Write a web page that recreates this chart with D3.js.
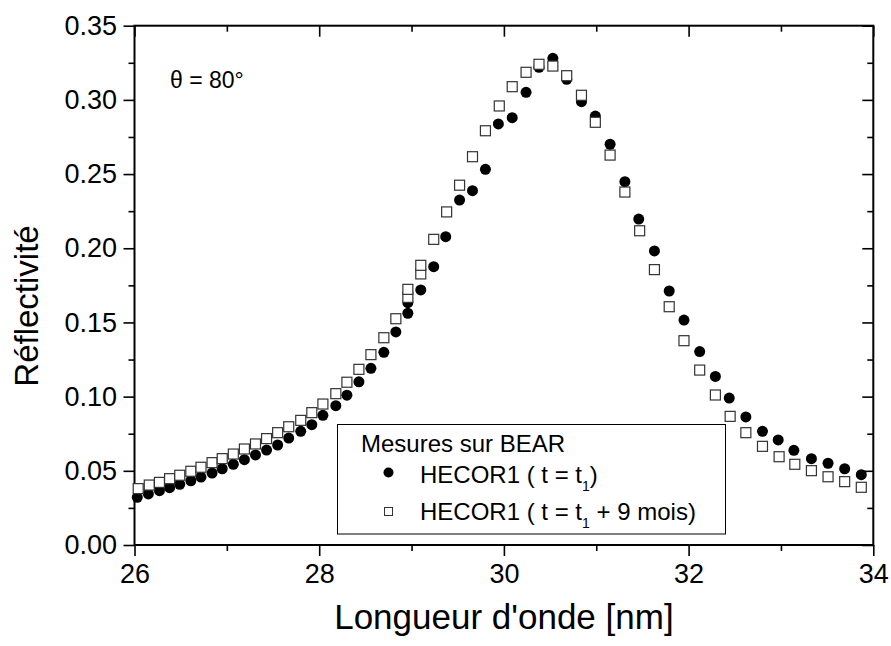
<!DOCTYPE html>
<html><head><meta charset="utf-8">
<script src="https://cdn.jsdelivr.net/npm/d3@7"></script>
<style>
body{margin:0;background:#fff}
text,tspan{font-family:"Liberation Sans",Arial,Helvetica,sans-serif;fill:#000}
</style>
</head><body>
<svg id="chart" width="891" height="646"></svg>
<script>
// Series 1: HECOR1 (t = t1) — filled circles
const wavelength1 = [26.03,26.15,26.27,26.38,26.49,26.61,26.72,26.84,26.95,27.07,
  27.19,27.31,27.43,27.55,27.67,27.80,27.92,28.04,28.18,28.30,
  28.43,28.56,28.70,28.83,28.96,28.96,29.10,29.24,29.37,29.52,
  29.66,29.80,29.94,30.09,30.24,30.38,30.53,30.68,30.84,30.99,
  31.15,31.31,31.46,31.63,31.79,31.95,32.12,32.29,32.44,32.62,
  32.80,32.97,33.14,33.33,33.51,33.69,33.87];
const reflect1 = [0.0321,0.0344,0.0366,0.0386,0.0409,0.0433,0.0458,0.0485,0.0514,0.0544,
  0.0575,0.0607,0.0640,0.0674,0.0721,0.0766,0.0811,0.0874,0.0939,0.1010,
  0.1100,0.1191,0.1299,0.1436,0.1562,0.1633,0.1719,0.1876,0.2078,0.2325,
  0.2388,0.2532,0.2838,0.2880,0.3051,0.3220,0.3280,0.3139,0.2988,0.2891,
  0.2701,0.2449,0.2197,0.1982,0.1712,0.1516,0.1304,0.1136,0.0990,0.0863,
  0.0766,0.0708,0.0638,0.0582,0.0551,0.0514,0.0474];
// Series 2: HECOR1 (t = t1 + 9 mois) — open squares
const wavelength2 = [26.04,26.16,26.27,26.38,26.49,26.61,26.72,26.84,26.95,27.07,
  27.19,27.31,27.43,27.55,27.67,27.80,27.92,28.04,28.18,28.30,
  28.43,28.56,28.70,28.83,28.96,28.96,29.10,29.10,29.24,29.38,
  29.52,29.66,29.80,29.95,30.09,30.24,30.38,30.53,30.68,30.84,
  30.99,31.15,31.31,31.47,31.63,31.79,31.95,32.12,32.29,32.45,
  32.62,32.80,32.98,33.15,33.33,33.51,33.69,33.87];
const reflect2 = [0.0380,0.0404,0.0422,0.0447,0.0470,0.0497,0.0524,0.0555,0.0582,0.0613,
  0.0647,0.0681,0.0717,0.0757,0.0797,0.0840,0.0892,0.0950,0.1020,0.1097,
  0.1184,0.1283,0.1397,0.1525,0.1669,0.1723,0.1827,0.1885,0.2060,0.2245,
  0.2425,0.2617,0.2792,0.2959,0.3089,0.3186,0.3240,0.3228,0.3163,0.3031,
  0.2849,0.2628,0.2379,0.2118,0.1856,0.1606,0.1377,0.1179,0.1011,0.0867,
  0.0757,0.0665,0.0595,0.0544,0.0501,0.0460,0.0427,0.0389];

const xMajorTicks = [26,28,30,32,34];
const xMinorTicks = [27,29,31,33];
const yMajorTicks = [0,0.05,0.10,0.15,0.20,0.25,0.30,0.35];
const yMinorTicks = [0.025,0.075,0.125,0.175,0.225,0.275,0.325];
const xTitle = "Longueur d'onde [nm]";
const yTitle = "Réflectivité";
const legendTitle = "Mesures sur BEAR";
const angleLabel = ["θ", " = 80°"];

const svg = d3.select("#chart");
const m = {left:134.5, right:17.7, top:25.7, bottom:101};
const W = 891, H = 646;
const x = d3.scaleLinear().domain([26,34]).range([m.left, W - m.right]);
const y = d3.scaleLinear().domain([0,0.35]).range([H - m.bottom, m.top]);

function styleAxis(g){
  g.select(".domain").remove();
  g.selectAll("line").attr("stroke","#000").attr("stroke-width",1.6);
  g.selectAll("text").attr("font-family","'Liberation Sans',Arial,sans-serif").attr("fill","#000");
}
const fmtY = d3.format(".2f");

// bottom
svg.append("g").attr("transform",`translate(0,${y(0)})`)
  .call(d3.axisBottom(x).tickValues(xMajorTicks).tickSize(11).tickPadding(8).tickFormat(d3.format("d")))
  .call(styleAxis).call(g=>g.selectAll("text").attr("font-size",27));
svg.append("g").attr("transform",`translate(0,${y(0)})`)
  .call(d3.axisBottom(x).tickValues(xMinorTicks).tickSize(6).tickFormat(""))
  .call(styleAxis);
// top (inward)
svg.append("g").attr("transform",`translate(0,${y(0.35)})`)
  .call(d3.axisTop(x).tickValues(xMajorTicks).tickSize(-11).tickFormat(""))
  .call(styleAxis);
svg.append("g").attr("transform",`translate(0,${y(0.35)})`)
  .call(d3.axisTop(x).tickValues(xMinorTicks).tickSize(-6).tickFormat(""))
  .call(styleAxis);
// left
svg.append("g").attr("transform",`translate(${x(26)},0)`)
  .call(d3.axisLeft(y).tickValues(yMajorTicks).tickSize(11).tickPadding(6.5).tickFormat(fmtY))
  .call(styleAxis).call(g=>g.selectAll("text").attr("font-size",27));
svg.append("g").attr("transform",`translate(${x(26)},0)`)
  .call(d3.axisLeft(y).tickValues(yMinorTicks).tickSize(6).tickFormat(""))
  .call(styleAxis);
// right (inward)
svg.append("g").attr("transform",`translate(${x(34)},0)`)
  .call(d3.axisRight(y).tickValues(yMajorTicks).tickSize(-11).tickFormat(""))
  .call(styleAxis);
svg.append("g").attr("transform",`translate(${x(34)},0)`)
  .call(d3.axisRight(y).tickValues(yMinorTicks).tickSize(-6).tickFormat(""))
  .call(styleAxis);

// frame
svg.append("rect").attr("x",x(26)).attr("y",y(0.35))
  .attr("width",x(34)-x(26)).attr("height",y(0)-y(0.35))
  .attr("fill","none").attr("stroke","#000").attr("stroke-width",2);

// axis titles
svg.append("text").attr("x",(x(26)+x(34))/2).attr("y",629)
  .attr("text-anchor","middle").attr("font-size",35).text(xTitle);
svg.append("text").attr("transform","translate(38,306) rotate(-90)")
  .attr("text-anchor","middle").attr("font-size",33).text(yTitle);

// angle label
const th = svg.append("text").attr("x",170).attr("y",88).attr("font-size",23);
th.append("tspan").attr("font-family","'Liberation Serif','Times New Roman',serif").attr("fill","#000").text(angleLabel[0]);
th.append("tspan").attr("fill","#000").text(angleLabel[1]);

// data: circles first, squares on top
const d1 = wavelength1.map((w,i)=>({w, r:reflect1[i]}));
const d2 = wavelength2.map((w,i)=>({w, r:reflect2[i]}));
svg.append("g").selectAll("circle").data(d1).join("circle")
  .attr("cx",d=>x(d.w)).attr("cy",d=>y(d.r)).attr("r",5.5).attr("fill","#000");
const sq = 10;
svg.append("g").selectAll("rect").data(d2).join("rect")
  .attr("x",d=>x(d.w)-sq/2).attr("y",d=>y(d.r)-sq/2)
  .attr("width",sq).attr("height",sq)
  .attr("fill","#fff").attr("stroke","#333").attr("stroke-width",1.2);

// legend
const lg = svg.append("g");
lg.append("rect").attr("x",337.5).attr("y",424.5).attr("width",388).attr("height",109.5)
  .attr("fill","#fff").attr("stroke","#000").attr("stroke-width",1);
lg.append("text").attr("x",361).attr("y",452).attr("font-size",24).text(legendTitle);
lg.append("circle").attr("cx",388.5).attr("cy",472.5).attr("r",5).attr("fill","#000");
lg.append("rect").attr("x",384.5).attr("y",507.5).attr("width",8).attr("height",8)
  .attr("fill","#fff").attr("stroke","#333").attr("stroke-width",1);
function legendLine(yb, after){
  const t = lg.append("text").attr("x",420).attr("y",yb).attr("font-size",24);
  t.append("tspan").attr("fill","#000").text("HECOR1 ( t = t");
  t.append("tspan").attr("fill","#000").attr("font-size",14).attr("dy",8).text("1");
  t.append("tspan").attr("fill","#000").attr("dy",-8).text(after);
}
legendLine(483, ")");
legendLine(520, " + 9 mois)");
</script>
</body></html>
